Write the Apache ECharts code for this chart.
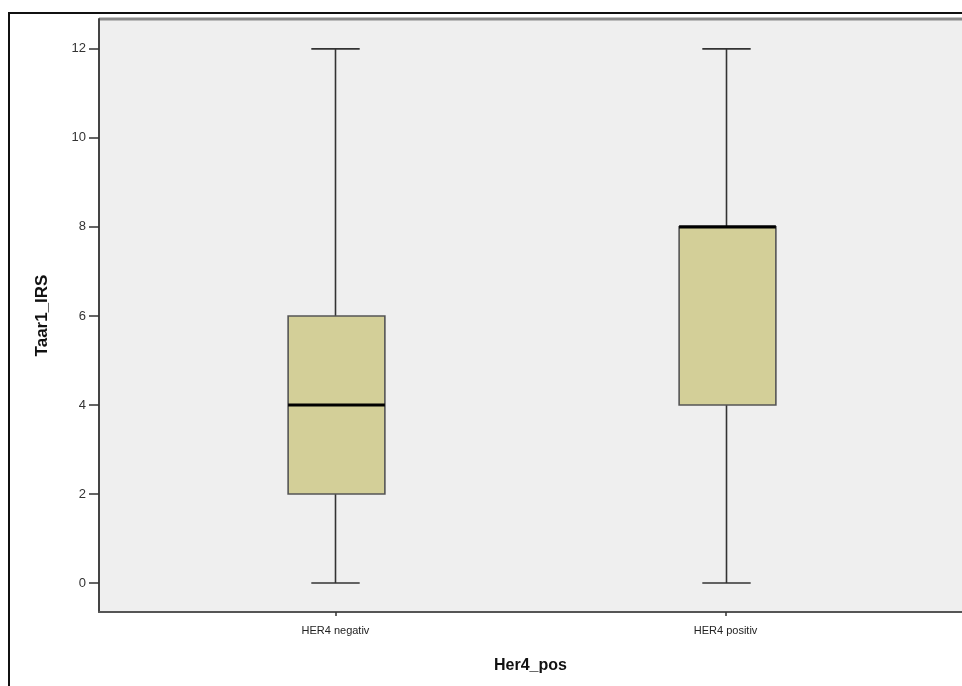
<!DOCTYPE html>
<html>
<head>
<meta charset="utf-8">
<script src="https://cdn.jsdelivr.net/npm/echarts@6/dist/echarts.min.js"></script>
<style>
  html, body { margin: 0; padding: 0; background: #ffffff; }
  #frame { position: absolute; left: 8px; top: 12px; width: 960px; height: 680px;
           border-left: 2px solid #111; border-top: 2px solid #111; box-sizing: border-box; }
  #chart { position: absolute; left: 0; top: 0; width: 962px; height: 686px; }
</style>
</head>
<body>
<div id="frame"></div>
<div id="chart"></div>
<script>
// Group labels along the horizontal axis
const categories = ['HER4 negativ', 'HER4 positiv'];
// Five-number summaries per group: [lower whisker, Q1, median, Q3, upper whisker]
const lowWhisker = [0, 0];
const q1 = [2, 4];
const median = [4, 8];
const q3 = [6, 8];
const highWhisker = [12, 12];
// Y axis tick values
const yTicks = [0, 2, 4, 6, 8, 10, 12];

const boxData = categories.map((c, i) => [i, lowWhisker[i], q1[i], median[i], q3[i], highWhisker[i]]);

const chart = echarts.init(document.getElementById('chart'), null, { renderer: 'canvas' });

function renderBox(params, api) {
  const x = api.value(0);
  const pLow = api.coord([x, api.value(1)]);
  const pQ1 = api.coord([x, api.value(2)]);
  const pMed = api.coord([x, api.value(3)]);
  const pQ3 = api.coord([x, api.value(4)]);
  const pHigh = api.coord([x, api.value(5)]);
  const unit = api.size([1, 0])[0];
  const halfBox = unit * 0.124;
  const halfCap = halfBox / 2;
  const cx = Math.round(pMed[0]) + 0.5;
  const lineStyle = { stroke: '#333333', lineWidth: 1.6, fill: null };
  return {
    type: 'group',
    children: [
      { type: 'line', shape: { x1: cx, y1: pHigh[1], x2: cx, y2: pQ3[1] }, style: lineStyle },
      { type: 'line', shape: { x1: cx, y1: pQ1[1], x2: cx, y2: pLow[1] }, style: lineStyle },
      { type: 'line', shape: { x1: cx - halfCap, y1: pHigh[1], x2: cx + halfCap, y2: pHigh[1] }, style: lineStyle },
      { type: 'line', shape: { x1: cx - halfCap, y1: pLow[1], x2: cx + halfCap, y2: pLow[1] }, style: lineStyle },
      { type: 'rect', shape: { x: cx - halfBox + 1, y: pQ3[1], width: halfBox * 2, height: pQ1[1] - pQ3[1] },
        style: { fill: '#d3cf98', stroke: '#555555', lineWidth: 1.6 } },
      { type: 'line', shape: { x1: cx - halfBox + 1, y1: pMed[1], x2: cx + halfBox + 1, y2: pMed[1] },
        style: { stroke: '#000000', lineWidth: 3.2 } }
    ]
  };
}

chart.setOption({
  animation: false,
  grid: { left: 99, right: -2, top: 19, bottom: 74, show: true,
          backgroundColor: '#efefef', borderWidth: 0 },
  xAxis: {
    type: 'value', min: -0.606, max: 1.606,
    name: 'Her4_pos', nameLocation: 'middle', nameGap: 46,
    nameTextStyle: { fontFamily: 'Liberation Sans', fontWeight: 'bold', fontSize: 16, color: '#111' },
    splitLine: { show: false },
    axisLine: { show: true, onZero: false, lineStyle: { color: '#555', width: 2 } },
    axisTick: { show: true, length: 4, customValues: [0, 1], lineStyle: { color: '#333', width: 1.5 } },
    axisLabel: { customValues: [0, 1], margin: 13, fontFamily: 'Liberation Sans', fontSize: 11, color: '#222',
                 formatter: v => categories[Math.round(v)] || '' }
  },
  yAxis: {
    type: 'value', min: -0.65, max: 12.67,
    name: 'Taar1_IRS', nameLocation: 'middle', nameGap: 48,
    nameTextStyle: { fontFamily: 'Liberation Sans', fontWeight: 'bold', fontSize: 17, color: '#111' },
    splitLine: { show: false },
    axisLine: { show: true, onZero: false, lineStyle: { color: '#444', width: 2 } },
    axisTick: { show: true, length: 10, customValues: yTicks, lineStyle: { color: '#333', width: 1.5 } },
    axisLabel: { customValues: yTicks, margin: 13, fontFamily: 'Liberation Sans', fontSize: 13, color: '#333' }
  },
  series: [{
    type: 'custom',
    renderItem: renderBox,
    encode: { x: 0, y: [1, 2, 3, 4, 5] },
    data: boxData
  }],
  graphic: [
    // light grey top edge of the plot frame
    { type: 'line', shape: { x1: 99, y1: 19, x2: 962, y2: 19 }, style: { stroke: '#8a8a8a', lineWidth: 3 } }
  ]
});
</script>
</body>
</html>
